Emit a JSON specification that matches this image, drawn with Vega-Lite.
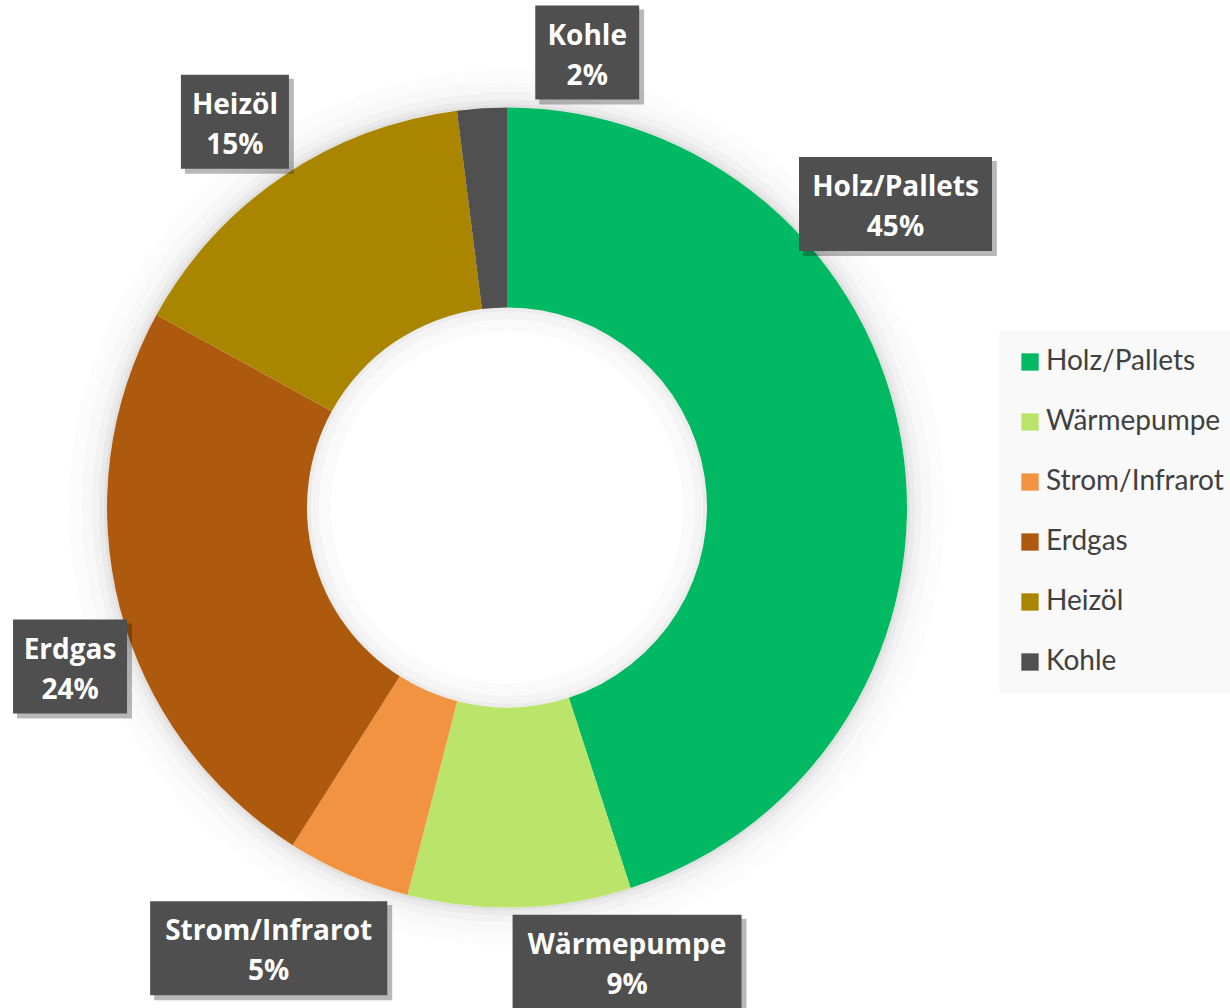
{
  "$schema": "https://vega.github.io/schema/vega-lite/v6.json",
  "autosize": "none",
  "width": 1014,
  "height": 1015,
  "padding": {"left": 0, "top": 0, "right": 216, "bottom": 0},
  "background": "white",
  "config": {"view": {"stroke": null}},
  "data": {
    "values": [
      {"Energie": "Holz/Pallets", "Anteil": 45},
      {"Energie": "Wärmepumpe", "Anteil": 9},
      {"Energie": "Strom/Infrarot", "Anteil": 5},
      {"Energie": "Erdgas", "Anteil": 24},
      {"Energie": "Heizöl", "Anteil": 15},
      {"Energie": "Kohle", "Anteil": 2}
    ]
  },
  "transform": [
    {"window": [{"op": "row_number", "as": "idx"}, {"op": "sum", "field": "Anteil", "as": "cum"}], "frame": [null, 0]},
    {"joinaggregate": [{"op": "sum", "field": "Anteil", "as": "total"}]},
    {"calculate": "360 * (datum.cum - datum.Anteil / 2) / datum.total", "as": "midDeg"},
    {"calculate": "datum.midDeg + ({'Holz/Pallets': -29, 'Wärmepumpe': -13, 'Strom/Infrarot': 5, 'Erdgas': -5.6, 'Heizöl': -1, 'Kohle': 13.6})[datum.Energie]", "as": "labelDeg"},
    {"calculate": "({'Holz/Pallets': 493, 'Wärmepumpe': 470, 'Strom/Infrarot': 501, 'Erdgas': 465, 'Heizöl': 472, 'Kohle': 462})[datum.Energie]", "as": "labelR"},
    {"calculate": "datum.labelR * sin(PI * datum.labelDeg / 180)", "as": "lx"},
    {"calculate": "datum.labelR * cos(PI * datum.labelDeg / 180)", "as": "ly"},
    {"calculate": "[datum.Energie, datum.Anteil + '%']", "as": "label"}
  ],
  "layer": [
    {
      "transform": [{"aggregate": [{"op": "sum", "field": "Anteil", "as": "t"}]}],
      "mark": {"type": "arc", "innerRadius": 400, "outerRadius": 403, "color": "#000000", "opacity": 0.04},
      "encoding": {"theta": {"field": "t", "type": "quantitative"}}
    },
    {
      "transform": [{"aggregate": [{"op": "sum", "field": "Anteil", "as": "t"}]}],
      "mark": {"type": "arc", "innerRadius": 400, "outerRadius": 408, "color": "#000000", "opacity": 0.03},
      "encoding": {"theta": {"field": "t", "type": "quantitative"}}
    },
    {
      "transform": [{"aggregate": [{"op": "sum", "field": "Anteil", "as": "t"}]}],
      "mark": {"type": "arc", "innerRadius": 400, "outerRadius": 415, "color": "#000000", "opacity": 0.025},
      "encoding": {"theta": {"field": "t", "type": "quantitative"}}
    },
    {
      "transform": [{"aggregate": [{"op": "sum", "field": "Anteil", "as": "t"}]}],
      "mark": {"type": "arc", "innerRadius": 400, "outerRadius": 425, "color": "#000000", "opacity": 0.015},
      "encoding": {"theta": {"field": "t", "type": "quantitative"}}
    },
    {
      "transform": [{"aggregate": [{"op": "sum", "field": "Anteil", "as": "t"}]}],
      "mark": {"type": "arc", "innerRadius": 400, "outerRadius": 438, "color": "#000000", "opacity": 0.01},
      "encoding": {"theta": {"field": "t", "type": "quantitative"}}
    },
    {
      "mark": {"type": "arc", "innerRadius": 200, "outerRadius": 400},
      "encoding": {
        "theta": {"field": "Anteil", "type": "quantitative", "stack": true},
        "order": {"field": "idx", "type": "quantitative"},
        "color": {
          "field": "Energie",
          "type": "nominal",
          "sort": ["Holz/Pallets", "Wärmepumpe", "Strom/Infrarot", "Erdgas", "Heizöl", "Kohle"],
          "scale": {
            "domain": ["Holz/Pallets", "Wärmepumpe", "Strom/Infrarot", "Erdgas", "Heizöl", "Kohle"],
            "range": ["#00B962", "#BAE46A", "#F29342", "#AE5A0E", "#AA8500", "#505050"]
          },
          "legend": {
            "orient": "none",
            "legendX": 999,
            "legendY": 331,
            "title": null,
            "fillColor": "#f9f9f9",
            "padding": 17,
            "symbolType": "square",
            "symbolSize": 300,
            "symbolStrokeWidth": 0,
            "labelFontSize": 28,
            "labelFont": "Lato",
            "labelColor": "#404040",
            "rowPadding": 32,
            "labelOffset": 2,
            "labelLimit": 400
          }
        }
      }
    },
    {
      "transform": [{"aggregate": [{"op": "sum", "field": "Anteil", "as": "t"}]}],
      "mark": {"type": "arc", "innerRadius": 176, "outerRadius": 200, "color": "#000000", "opacity": 0.02},
      "encoding": {"theta": {"field": "t", "type": "quantitative"}}
    },
    {
      "transform": [{"aggregate": [{"op": "sum", "field": "Anteil", "as": "t"}]}],
      "mark": {"type": "arc", "innerRadius": 188, "outerRadius": 200, "color": "#000000", "opacity": 0.025},
      "encoding": {"theta": {"field": "t", "type": "quantitative"}}
    },
    {
      "transform": [{"aggregate": [{"op": "sum", "field": "Anteil", "as": "t"}]}],
      "mark": {"type": "arc", "innerRadius": 196, "outerRadius": 200, "color": "#000000", "opacity": 0.03},
      "encoding": {"theta": {"field": "t", "type": "quantitative"}}
    },
    {
      "mark": {"type": "point", "filled": true, "color": "#000000", "opacity": 0.28, "strokeWidth": 0},
      "encoding": {
        "x": {"field": "lx", "type": "quantitative", "scale": {"domain": [-507, 507], "nice": false, "zero": false}, "axis": null},
        "y": {"field": "ly", "type": "quantitative", "scale": {"domain": [-507.5, 507.5], "nice": false, "zero": false}, "axis": null},
        "size": {"value": 57600},
        "shape": {
          "field": "Energie",
          "type": "nominal",
          "legend": null,
          "scale": {
            "domain": ["Holz/Pallets", "Wärmepumpe", "Strom/Infrarot", "Erdgas", "Heizöl", "Kohle"],
            "range": [
              "M-0.771,-0.359H0.845V0.433H-0.771Z",
              "M-0.921,-0.359H0.995V0.433H-0.921Z",
              "M-0.955,-0.359H1.029V0.433H-0.955Z",
              "M-0.442,-0.359H0.516V0.433H-0.442Z",
              "M-0.417,-0.359H0.491V0.433H-0.417Z",
              "M-0.400,-0.359H0.474V0.433H-0.400Z"
            ]
          }
        }
      }
    },
    {
      "mark": {"type": "point", "filled": true, "color": "#4f4f4f", "opacity": 1, "strokeWidth": 0},
      "encoding": {
        "x": {"field": "lx", "type": "quantitative"},
        "y": {"field": "ly", "type": "quantitative"},
        "size": {"value": 57600},
        "shape": {
          "field": "Energie",
          "type": "nominal",
          "legend": null,
          "scale": {
            "domain": ["Holz/Pallets", "Wärmepumpe", "Strom/Infrarot", "Erdgas", "Heizöl", "Kohle"],
            "range": [
              "M-0.804,-0.392H0.804V0.392H-0.804Z",
              "M-0.954,-0.392H0.954V0.392H-0.954Z",
              "M-0.988,-0.392H0.988V0.392H-0.988Z",
              "M-0.475,-0.392H0.475V0.392H-0.475Z",
              "M-0.45,-0.392H0.45V0.392H-0.45Z",
              "M-0.433,-0.392H0.433V0.392H-0.433Z"
            ]
          }
        }
      }
    },
    {
      "mark": {"type": "text", "color": "#ffffff", "font": "Open Sans", "fontWeight": "bold", "fontSize": 28, "align": "center", "baseline": "middle", "lineHeight": 40, "dy": -16},
      "encoding": {
        "x": {"field": "lx", "type": "quantitative"},
        "y": {"field": "ly", "type": "quantitative"},
        "text": {"field": "label"}
      }
    }
  ],
  "resolve": {"scale": {"shape": "independent"}}
}
